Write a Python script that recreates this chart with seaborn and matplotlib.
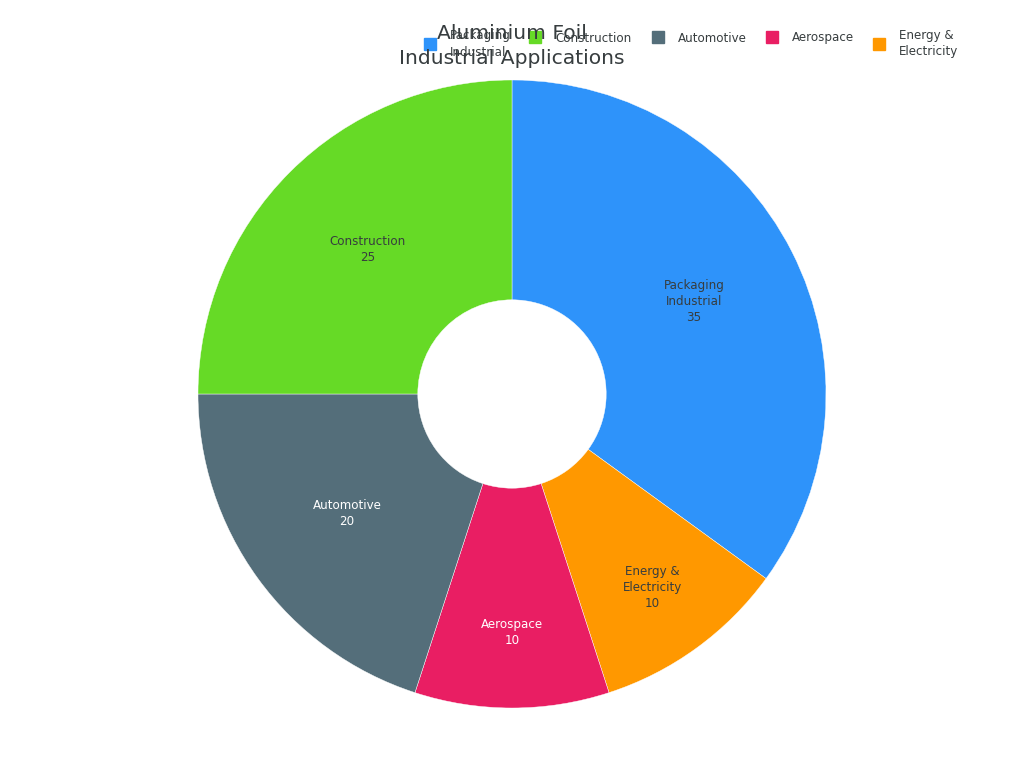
import matplotlib
matplotlib.use("Agg")
import matplotlib.pyplot as plt
from matplotlib.patches import Rectangle
import numpy as np
import seaborn as sns

# Data (drawn clockwise from 12 o'clock)
categories = ["Packaging\nIndustrial", "Energy &\nElectricity", "Aerospace", "Automotive", "Construction"]
values = [35, 10, 10, 20, 25]
colors = ["#2E93FA", "#FF9800", "#E91E63", "#546E7A", "#66DA26"]
label_colors = ["#373d3f", "#373d3f", "#ffffff", "#ffffff", "#373d3f"]

# Legend order as in the reference
legend_labels = ["Packaging\nIndustrial", "Construction", "Automotive", "Aerospace", "Energy &\nElectricity"]
legend_colors = ["#2E93FA", "#66DA26", "#546E7A", "#E91E63", "#FF9800"]

sns.set_theme(style="white")
plt.rcParams['font.family'] = ['DejaVu Sans']

W, H = 1024, 768
fig = plt.figure(figsize=(W / 100, H / 100), dpi=100)
cx, cy, r = 512, 394, 314
ax = fig.add_axes([(cx - r) / W, (H - cy - r) / H, 2 * r / W, 2 * r / H])

wedges, _ = ax.pie(values, colors=colors, startangle=90, counterclock=False,
                   radius=1.0, wedgeprops=dict(width=0.70, edgecolor="white", linewidth=0.3))
ax.set_xlim(-1, 1)
ax.set_ylim(-1, 1)
ax.set_aspect("equal")
ax.axis("off")

# labels inside the ring (small slices get pushed further out)
for w, cat, v, lc in zip(wedges, categories, values, label_colors):
    mid = np.deg2rad((w.theta1 + w.theta2) / 2)
    rr = 0.65 if v >= 20 else 0.76
    ax.text(rr * np.cos(mid), rr * np.sin(mid), f"{cat}\n{v}", ha="center", va="center",
            fontsize=8.6, color=lc, linespacing=1.3)

# title
fig.text(0.5, 1 - 46 / H, "Aluminium Foil\nIndustrial Applications", ha="center", va="center",
         fontsize=14.6, color="#373d3f", linespacing=1.4)

# legend (manual, horizontal)
marker_x = [430, 535, 658, 772, 879]
for mx, lab, col in zip(marker_x, legend_labels, legend_colors):
    two = "\n" in lab
    my = 44 if two else 37
    s = 12
    fig.patches.append(Rectangle(((mx - s / 2) / W, 1 - (my + s / 2) / H), s / W, s / H,
                                 transform=fig.transFigure, color=col, figure=fig))
    fig.text((mx + 20) / W, 1 - (44 if two else 38) / H, lab, ha="left", va="center",
             fontsize=8.6, color="#373d3f", linespacing=1.3)

fig.savefig("out.png", dpi=100, facecolor="white")
